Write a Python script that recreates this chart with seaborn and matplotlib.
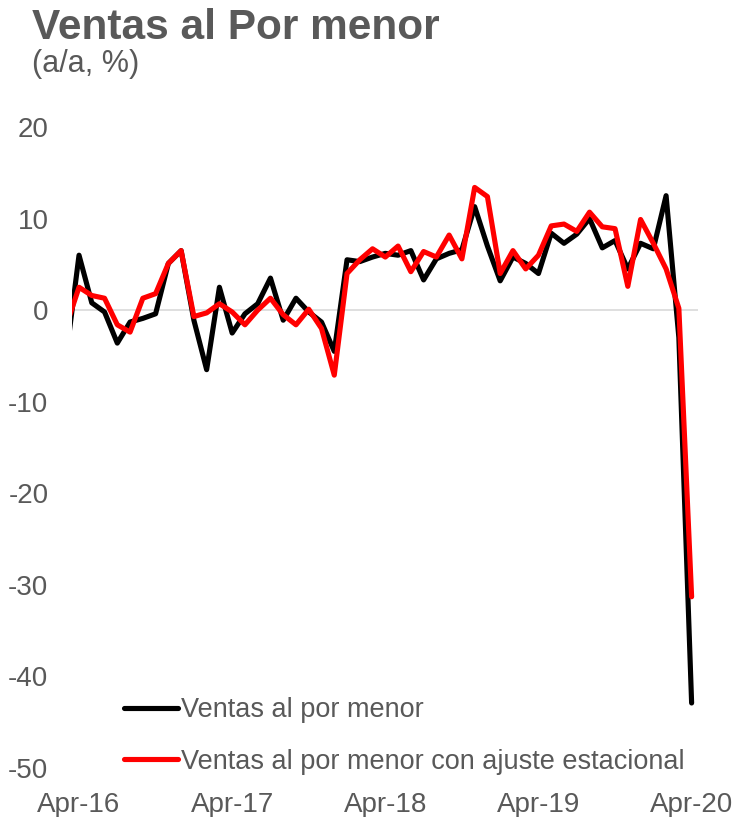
import matplotlib
matplotlib.use("Agg")
import matplotlib.pyplot as plt
from matplotlib.lines import Line2D
import seaborn as sns
import pandas as pd

months = ["Mar-16", "Apr-16", "May-16", "Jun-16", "Jul-16", "Aug-16", "Sep-16", "Oct-16", "Nov-16", "Dec-16",
          "Jan-17", "Feb-17", "Mar-17", "Apr-17", "May-17", "Jun-17", "Jul-17", "Aug-17", "Sep-17", "Oct-17",
          "Nov-17", "Dec-17", "Jan-18", "Feb-18", "Mar-18", "Apr-18", "May-18", "Jun-18", "Jul-18", "Aug-18",
          "Sep-18", "Oct-18", "Nov-18", "Dec-18", "Jan-19", "Feb-19", "Mar-19", "Apr-19", "May-19", "Jun-19",
          "Jul-19", "Aug-19", "Sep-19", "Oct-19", "Nov-19", "Dec-19", "Jan-20", "Feb-20", "Mar-20", "Apr-20"]

ventas = [-5.0, 6.0, 0.8, -0.2, -3.6, -1.3, -0.9, -0.4, 5.1, 6.5,
          -1.1, -6.5, 2.5, -2.5, -0.4, 0.7, 3.5, -1.1, 1.3, -0.2,
          -1.3, -4.5, 5.5, 5.3, 5.8, 6.2, 6.0, 6.5, 3.3, 5.6,
          6.2, 6.6, 11.3, 7.0, 3.2, 5.8, 5.1, 4.0, 8.4, 7.3,
          8.3, 10.0, 6.8, 7.6, 4.5, 7.3, 6.7, 12.5, -3.0, -42.9]

ventas_sa = [-1.7, 2.5, 1.6, 1.3, -1.6, -2.4, 1.3, 1.8, 5.1, 6.5,
             -0.7, -0.3, 0.7, -0.2, -1.6, 0.0, 1.3, -0.5, -1.6, 0.1,
             -2.0, -7.1, 4.0, 5.5, 6.7, 5.8, 7.0, 4.2, 6.4, 5.8,
             8.2, 5.6, 13.4, 12.4, 4.0, 6.5, 4.5, 6.0, 9.2, 9.4,
             8.6, 10.7, 9.1, 8.9, 2.6, 9.9, 7.3, 4.5, 0.2, -31.3]

series_names = ["Ventas al por menor", "Ventas al por menor con ajuste estacional"]
series_colors = ["#000000", "#FF0000"]
tick_labels = ["Apr-16", "Apr-17", "Apr-18", "Apr-19", "Apr-20"]
y_ticks = [20, 10, 0, -10, -20, -30, -40, -50]

title = "Ventas al Por menor"
subtitle = "(a/a, %)"

# x index: Apr-16 = 0 (Mar-16 lies just outside the left edge and is clipped)
x_idx = list(range(-1, len(months) - 1))
df = pd.DataFrame({
    "x": x_idx * 2,
    "valor": ventas + ventas_sa,
    "serie": [series_names[0]] * len(ventas) + [series_names[1]] * len(ventas_sa),
})

sns.set_theme(style="white")
plt.rcParams["font.family"] = ["Liberation Sans", "DejaVu Sans"]
grey = "#595959"

fig = plt.figure(figsize=(7.36, 8.17), dpi=100)
ax = fig.add_axes([72 / 736, 1 - 768 / 817, (698 - 72) / 736, (768 - 127) / 817])

ax.axhline(0, color="#D9D9D9", lw=1.2, zorder=1)
sns.lineplot(data=df, x="x", y="valor", hue="serie", hue_order=series_names,
             palette=series_colors, linewidth=3.7, sort=False, ax=ax, legend=False, zorder=3)

ax.set_xlim(-0.55, 48.5)
ax.set_ylim(-50, 20)
ax.set_yticks(y_ticks)
ax.set_yticklabels([str(v) for v in y_ticks])
tick_pos = [months.index(t) - 1 for t in tick_labels]
ax.set_xticks(tick_pos)
ax.set_xticklabels(tick_labels)
ax.tick_params(axis="both", length=0, labelsize=20, labelcolor=grey)
ax.tick_params(axis="y", pad=17)
ax.tick_params(axis="x", pad=17)
ax.set_xlabel("")
ax.set_ylabel("")
for s in ax.spines.values():
    s.set_visible(False)
ax.grid(False)

handles = [Line2D([0], [0], color=c, lw=3.7) for c in series_colors]
leg = fig.legend(handles, series_names, loc="upper left",
                 bbox_to_anchor=(124 / 736, 1 - 697 / 817), frameon=False,
                 fontsize=19.5, handlelength=2.0, handletextpad=0.12,
                 labelspacing=0.95, borderpad=0, borderaxespad=0)
for t in leg.get_texts():
    t.set_color(grey)

fig.text(32 / 736, 1 - 39 / 817, title, fontsize=30.5, fontweight="bold",
         color=grey, va="baseline", ha="left")
fig.text(32 / 736, 1 - 72 / 817, subtitle, fontsize=22, color=grey,
         va="baseline", ha="left")

fig.savefig("out.png", dpi=100)
